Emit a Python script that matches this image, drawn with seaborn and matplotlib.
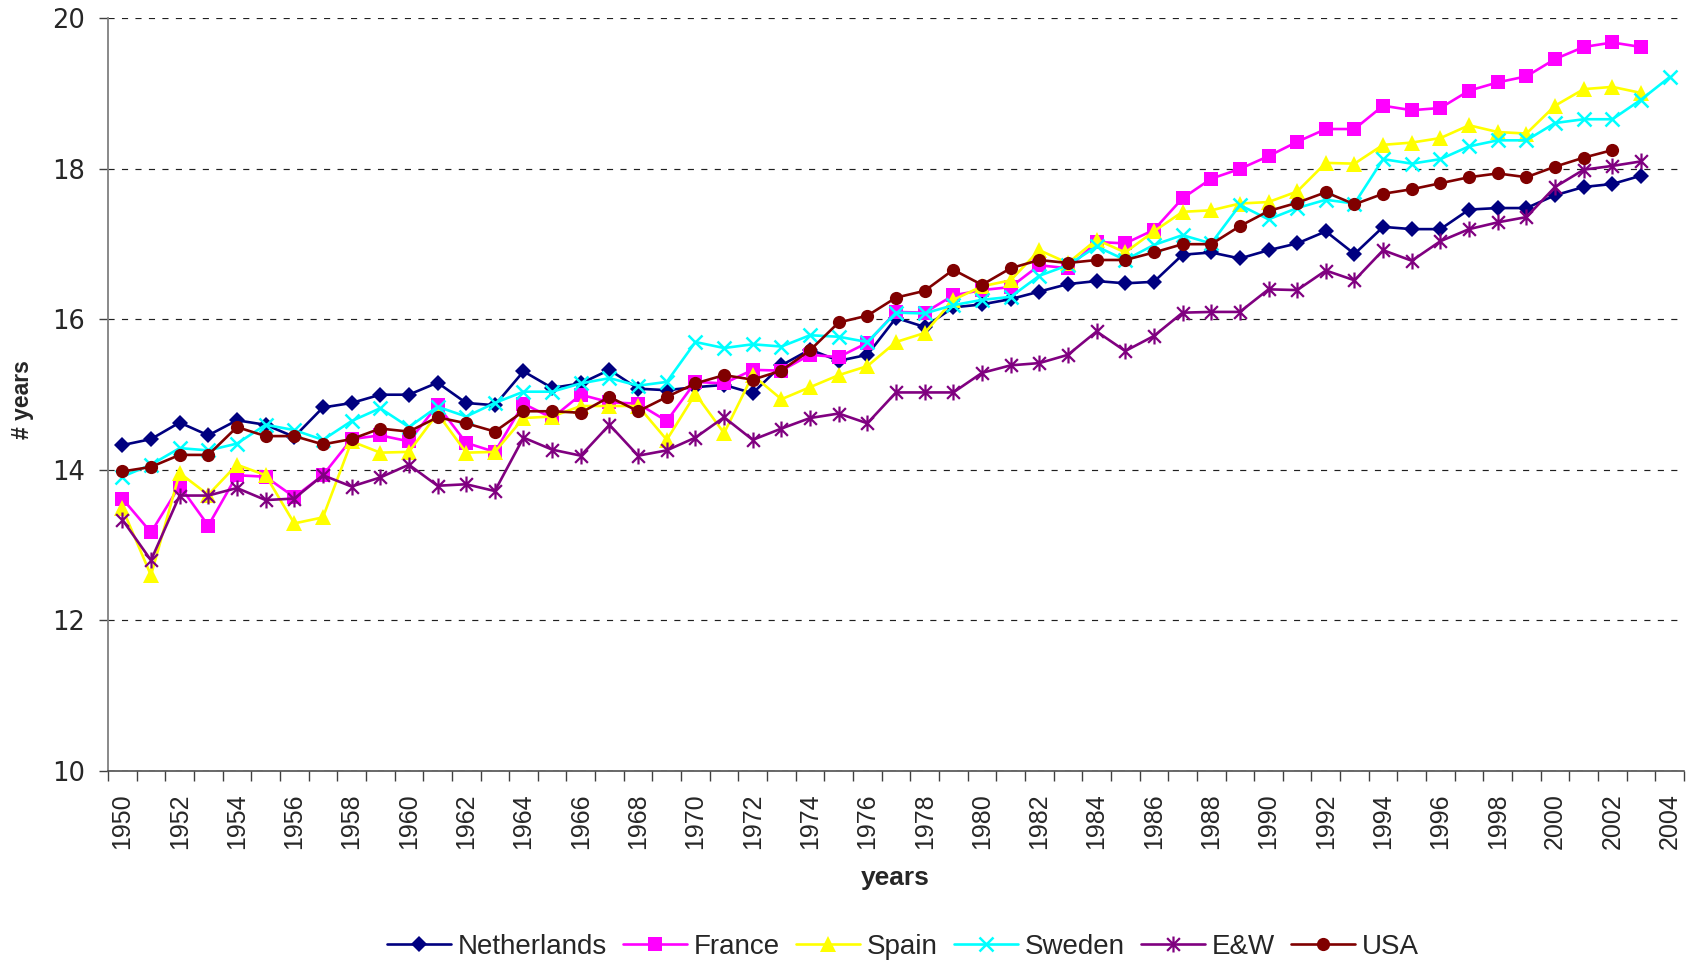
import numpy as np
import pandas as pd
import matplotlib
matplotlib.use("Agg")
import matplotlib.pyplot as plt
from matplotlib.path import Path
from matplotlib.ticker import FixedLocator
import seaborn as sns

nan = np.nan

years = list(range(1950, 2005))

netherlands = [14.33, 14.41, 14.63, 14.46, 14.66, 14.60, 14.44, 14.83, 14.89, 15.00,
               15.00, 15.16, 14.89, 14.86, 15.31, 15.09, 15.15, 15.33, 15.08, 15.06,
               15.10, 15.13, 15.02, 15.39, 15.60, 15.45, 15.53, 16.02, 15.90, 16.16,
               16.20, 16.27, 16.37, 16.47, 16.51, 16.48, 16.50, 16.86, 16.89, 16.81,
               16.92, 17.01, 17.17, 16.87, 17.23, 17.20, 17.20, 17.46, 17.48, 17.48,
               17.65, 17.76, 17.80, 17.91, nan]

france = [13.62, 13.17, 13.79, 13.26, 13.93, 13.91, 13.64, 13.93, 14.41, 14.46,
          14.38, 14.86, 14.36, 14.24, 14.88, 14.69, 15.00, 14.90, 14.88, 14.65,
          15.17, 15.15, 15.33, 15.32, 15.53, 15.50, 15.69, 16.10, 16.09, 16.32,
          16.39, 16.43, 16.72, 16.68, 17.03, 17.01, 17.19, 17.61, 17.87, 18.00,
          18.17, 18.36, 18.53, 18.53, 18.84, 18.78, 18.81, 19.04, 19.15, 19.23,
          19.46, 19.62, 19.68, 19.62, nan]

spain = [13.49, 12.60, 13.96, 13.67, 14.07, 13.93, 13.29, 13.37, 14.38, 14.23,
         14.24, 14.75, 14.23, 14.24, 14.69, 14.71, 14.85, 14.85, 14.85, 14.40,
         15.01, 14.49, 15.26, 14.94, 15.10, 15.26, 15.38, 15.70, 15.82, 16.26,
         16.44, 16.52, 16.92, 16.75, 17.06, 16.89, 17.17, 17.43, 17.45, 17.54,
         17.56, 17.70, 18.08, 18.07, 18.32, 18.35, 18.41, 18.58, 18.49, 18.47,
         18.84, 19.06, 19.09, 19.01, nan]

sweden = [13.91, 14.07, 14.29, 14.26, 14.35, 14.60, 14.53, 14.40, 14.65, 14.82,
          14.57, 14.84, 14.71, 14.89, 15.04, 15.04, 15.15, 15.22, 15.12, 15.17,
          15.70, 15.62, 15.67, 15.64, 15.79, 15.77, 15.70, 16.09, 16.08, 16.19,
          16.26, 16.30, 16.58, 16.72, 16.97, 16.79, 16.99, 17.12, 17.01, 17.52,
          17.33, 17.48, 17.59, 17.54, 18.13, 18.07, 18.13, 18.30, 18.38, 18.38,
          18.61, 18.66, 18.66, 18.92, 19.22]

england_wales = [13.34, 12.80, 13.66, 13.66, 13.76, 13.60, 13.62, 13.93, 13.78, 13.90,
                 14.07, 13.79, 13.81, 13.72, 14.43, 14.27, 14.19, 14.60, 14.19, 14.26,
                 14.43, 14.70, 14.40, 14.55, 14.69, 14.75, 14.62, 15.03, 15.03, 15.03,
                 15.29, 15.39, 15.42, 15.53, 15.84, 15.58, 15.78, 16.09, 16.10, 16.10,
                 16.40, 16.39, 16.65, 16.52, 16.92, 16.78, 17.04, 17.20, 17.29, 17.36,
                 17.76, 17.99, 18.04, 18.10, nan]

usa = [13.98, 14.04, 14.20, 14.20, 14.57, 14.45, 14.45, 14.34, 14.41, 14.55,
       14.51, 14.70, 14.62, 14.51, 14.78, 14.78, 14.76, 14.97, 14.78, 14.97,
       15.15, 15.26, 15.20, 15.32, 15.59, 15.96, 16.05, 16.29, 16.38, 16.66,
       16.46, 16.68, 16.79, 16.75, 16.79, 16.79, 16.89, 17.00, 17.00, 17.24,
       17.44, 17.55, 17.69, 17.53, 17.67, 17.73, 17.81, 17.89, 17.94, 17.89,
       18.03, 18.15, 18.25, nan, nan]

series_names = ["Netherlands", "France", "Spain", "Sweden", "E&W", "USA"]
series_values = [netherlands, france, spain, sweden, england_wales, usa]

# asterisk marker: vertical bar crossed by two diagonals
star_path = Path([(0, -1), (0, 1), (-0.8, -0.8), (0.8, 0.8), (-0.8, 0.8), (0.8, -0.8)],
                 [Path.MOVETO, Path.LINETO] * 3)

styles = {
    "Netherlands": dict(color="#000080", marker="D", markersize=8.2, mew=0),
    "France": dict(color="#FF00FF", marker="s", markersize=9.5, mew=0),
    "Spain": dict(color="#FFFF00", marker="^", markersize=11, mew=0),
    "Sweden": dict(color="#00FFFF", marker="x", markersize=10, mew=1.8),
    "E&W": dict(color="#800080", marker=star_path, markersize=11.5, mew=1.6),
    "USA": dict(color="#800000", marker="o", markersize=9.5, mew=0),
}

pos = np.arange(len(years))
frames = []
for name, vals in zip(series_names, series_values):
    frames.append(pd.DataFrame({"pos": pos, "value": vals, "country": name}))
df = pd.concat(frames, ignore_index=True).dropna()

sns.set_style("white")
plt.rcParams["font.family"] = ["Liberation Sans", "DejaVu Sans"]
plt.rcParams["lines.scale_dashes"] = False

fig = plt.figure(figsize=(16.96, 9.6), dpi=100)
ax = fig.add_axes([108 / 1696, 1 - 771 / 960, (1684 - 108) / 1696, (771 - 18.4) / 960])

for name in series_names:
    st = styles[name]
    sub = df[df["country"] == name]
    sns.lineplot(data=sub, x="pos", y="value", ax=ax, color=st["color"],
                 marker=st["marker"], markersize=st["markersize"],
                 markeredgewidth=st["mew"], markeredgecolor=st["color"],
                 markerfacecolor=st["color"], linewidth=1.9, label=name,
                 estimator=None, sort=False)

ax.set_xlim(-0.5, len(years) - 0.5)
ax.set_ylim(10, 20)

# y axis
ax.set_yticks([10, 12, 14, 16, 18, 20])
ax.yaxis.grid(True, color="#202020", linewidth=0.85, linestyle=(0, (4.4, 5.3)))
ax.xaxis.grid(False)
ax.set_axisbelow(True)
ax.tick_params(axis="y", direction="out", length=6.5, width=1, color="#404040",
               pad=10, labelsize=18.5, left=True)
for lbl in ax.get_yticklabels():
    lbl.set_fontfamily("DejaVu Sans")

# x axis: labels every other year, tick marks between categories
ax.xaxis.set_major_locator(FixedLocator(pos[::2]))
ax.set_xticklabels([str(y) for y in years[::2]], rotation=90, fontsize=18)
ax.xaxis.set_minor_locator(FixedLocator(np.arange(-0.5, len(years), 1.0)))
ax.tick_params(axis="x", which="major", length=0, pad=16, bottom=True)
ax.tick_params(axis="x", which="minor", direction="out", length=7, width=1,
               color="#404040", bottom=True)

for side in ["top", "right"]:
    ax.spines[side].set_visible(False)
ax.spines["left"].set_color("#808080")
ax.spines["left"].set_linewidth(1.3)
ax.spines["bottom"].set_color("#404040")
ax.spines["bottom"].set_linewidth(1.1)

ax.set_xlabel("years", fontsize=19, fontweight="bold", va="center")
ax.xaxis.set_label_coords((895 - 108) / 1576, -(878 - 771) / 752.6)
ax.set_ylabel("# years", fontsize=16.5, fontweight="bold", va="center", ha="center")
ax.yaxis.set_label_coords((22 - 108) / 1576, (771 - 400) / 752.6)

handles, labels = ax.get_legend_handles_labels()
ax.get_legend().remove()
fig.legend(handles, labels, loc="center", bbox_to_anchor=(903 / 1696, 13 / 960),
           ncol=6, frameon=False, handlelength=2.3, handletextpad=0.25,
           columnspacing=0.58, prop={"family": "Liberation Sans", "size": 20})

fig.savefig("out.png", dpi=100)
